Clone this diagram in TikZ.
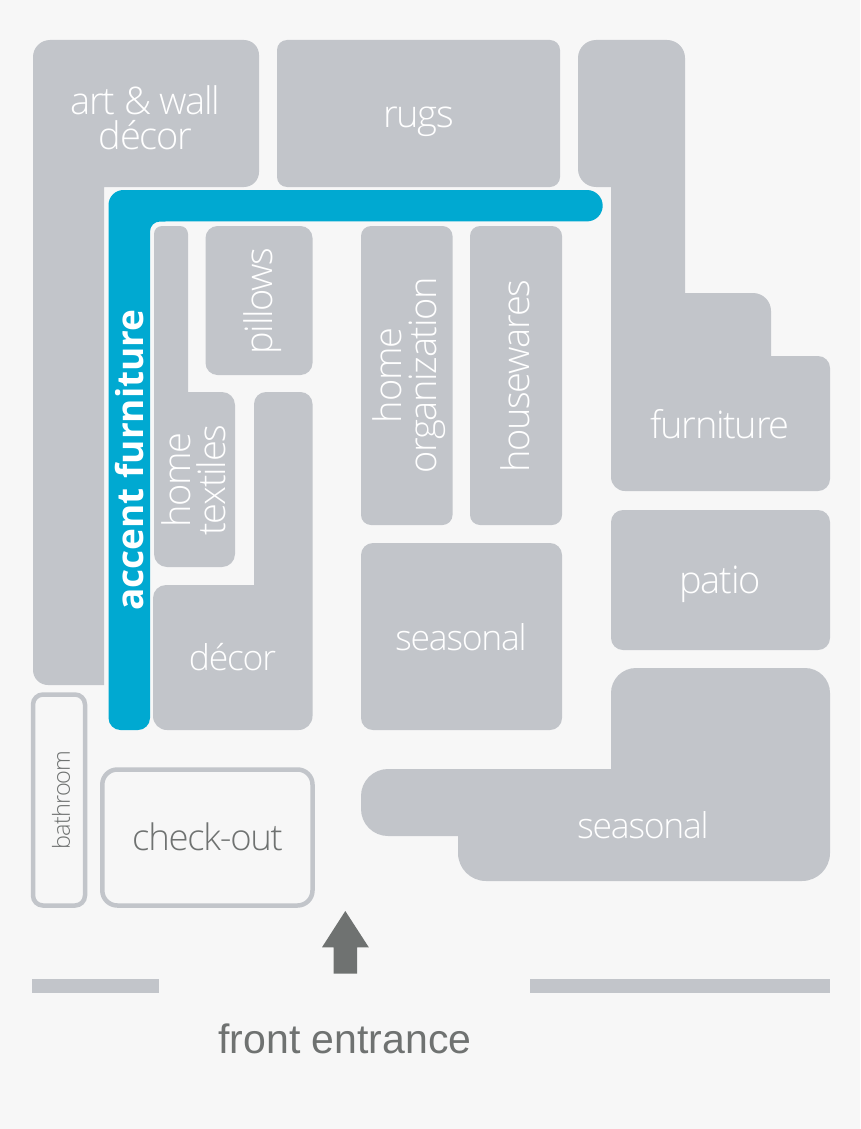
\documentclass[tikz,border=0pt]{standalone}
\usepackage{fontspec}
\setmainfont[LetterSpace=-3.5,BoldFont={Open Sans Bold},BoldFeatures={LetterSpace=0}]{Open Sans Light}
\newfontfamily\labelfont{Liberation Sans}
\definecolor{floorbg}{HTML}{F7F7F7}
\definecolor{roomgray}{HTML}{C2C5CA}
\definecolor{accentblue}{HTML}{00A9D1}
\definecolor{darktext}{HTML}{6F7271}
\tikzset{
  room/.style={fill=roomgray, draw=none},
  outlined/.style={draw=roomgray, line width=4.5pt, fill=floorbg},
  roomtext/.style={text=white, align=center, inner sep=0pt, font=\fontsize{38}{35}\selectfont},
  smalltext/.style={roomtext, font=\fontsize{35.5}{35}\selectfont},
  darklabel/.style={text=darktext, align=center, inner sep=0pt}
}

\begin{document}
\begin{tikzpicture}[x=1pt, y=-1pt]
\useasboundingbox (0,0) rectangle (860,1129);
\fill[floorbg] (0,0) rectangle (860,1129);

% top row
\fill[room] (104,685) [rounded corners=15pt] -- (33,685) [rounded corners=17pt] -- (33,40) [rounded corners=15pt] -- (259,40) -- (259,187) [sharp corners] -- (104,187) -- cycle;
\fill[room, rounded corners=10pt] (277,40) rectangle (560,187);
\fill[room] (611,187) [rounded corners=18pt] -- (578,187) -- (578,40) -- (685,40) [sharp corners] -- (685,293) [rounded corners=18pt] -- (771,293) [sharp corners] -- (771,356) [rounded corners=12pt] -- (830,356) -- (830,491) [rounded corners=14pt] -- (611,491) [sharp corners] -- cycle;

% accent aisle
\fill[accentblue] (108.5,400) [rounded corners=15pt] -- (108.5,190) [sharp corners] -- (587,190) arc[start angle=-90, end angle=90, x radius=15.7pt, y radius=-15.7pt] -- (160,221.5) [rounded corners=10pt] -- (150,221.5) [rounded corners=12pt] -- (150,730) -- (108.5,730) [sharp corners] -- cycle;

% left block
\fill[room] (154,300) [rounded corners=8pt] -- (154,226) -- (188,226) [sharp corners] -- (188,392) [rounded corners=13pt] -- (235,392) -- (235,567) -- (154,567) [sharp corners] -- cycle;
\fill[room, rounded corners=12pt] (205.5,226) rectangle (312.5,375);
\fill[room] (254,585) [rounded corners=12pt] -- (254,392) -- (312.5,392) [rounded corners=14pt] -- (312.5,730) -- (153,730) [rounded corners=13pt] -- (153,585) [sharp corners] -- cycle;

% middle block
\fill[room, rounded corners=10pt] (361,226) rectangle (452.5,525);
\fill[room, rounded corners=10pt] (470,226) rectangle (562,525);
\fill[room, rounded corners=12pt] (361,543) rectangle (562,730);

% right block
\fill[room, rounded corners=12pt] (611,510) rectangle (830,650);
\fill[room] (611,769) [rounded corners=25pt] -- (611,668) -- (830,668) [rounded corners=28pt] -- (830,881) -- (458,881) [sharp corners] -- (458,836) [rounded corners=27pt] -- (361,836) -- (361,769) [sharp corners] -- cycle;

% outlined rooms
\draw[outlined, rounded corners=10pt] (33,694.5) rectangle (85,905.5);
\draw[outlined, rounded corners=15pt] (102.3,769.5) rectangle (312.5,905.5);

% entrance walls and arrow
\fill[roomgray] (32,979) rectangle (159,992.5);
\fill[roomgray] (529.5,979) rectangle (830,992.5);
\fill[darktext] (345.3,911) -- (368.8,947.3) -- (357,947.3) -- (357,973.7) -- (333.5,973.7) -- (333.5,947.3) -- (322,947.3) -- cycle;

% room labels
\node[roomtext] (artdecor) at (145.5,118) {art \& wall\\décor};
\node[roomtext] (rugs) at (418.5,122) {rugs};
\node[roomtext] (furniture) at (720,424) {furniture};
\node[roomtext] (patio) at (720,584) {patio};
\node[smalltext] (seasonalmid) at (461,637) {seasonal};
\node[smalltext] (seasonalfront) at (643,825) {seasonal};
\node[smalltext] (decor) at (232.5,657) {décor};
\node[roomtext, rotate=90] (pillows) at (263,301) {pillows};
\node[roomtext, rotate=90] (hometextiles) at (194,480) {home\\textiles};
\node[roomtext, rotate=90] (homeorg) at (409,375.5) {home\\organization};
\node[roomtext, rotate=90] (housewares) at (515,376) {housewares};
\node[roomtext, rotate=90, font=\fontsize{37}{37}\selectfont\bfseries] (accent) at (129.5,460) {accent furniture};

\node[darklabel, font=\fontsize{36.5}{36}\selectfont] (checkout) at (207.5,837) {check-out};
\node[darklabel, rotate=90, font=\fontsize{23.5}{23}\selectfont] (bathroom) at (61,800) {bathroom};
\node[darklabel, font=\labelfont\fontsize{41}{41}\selectfont] (entrance) at (345,1039) {front entrance};
\end{tikzpicture}
\end{document}
